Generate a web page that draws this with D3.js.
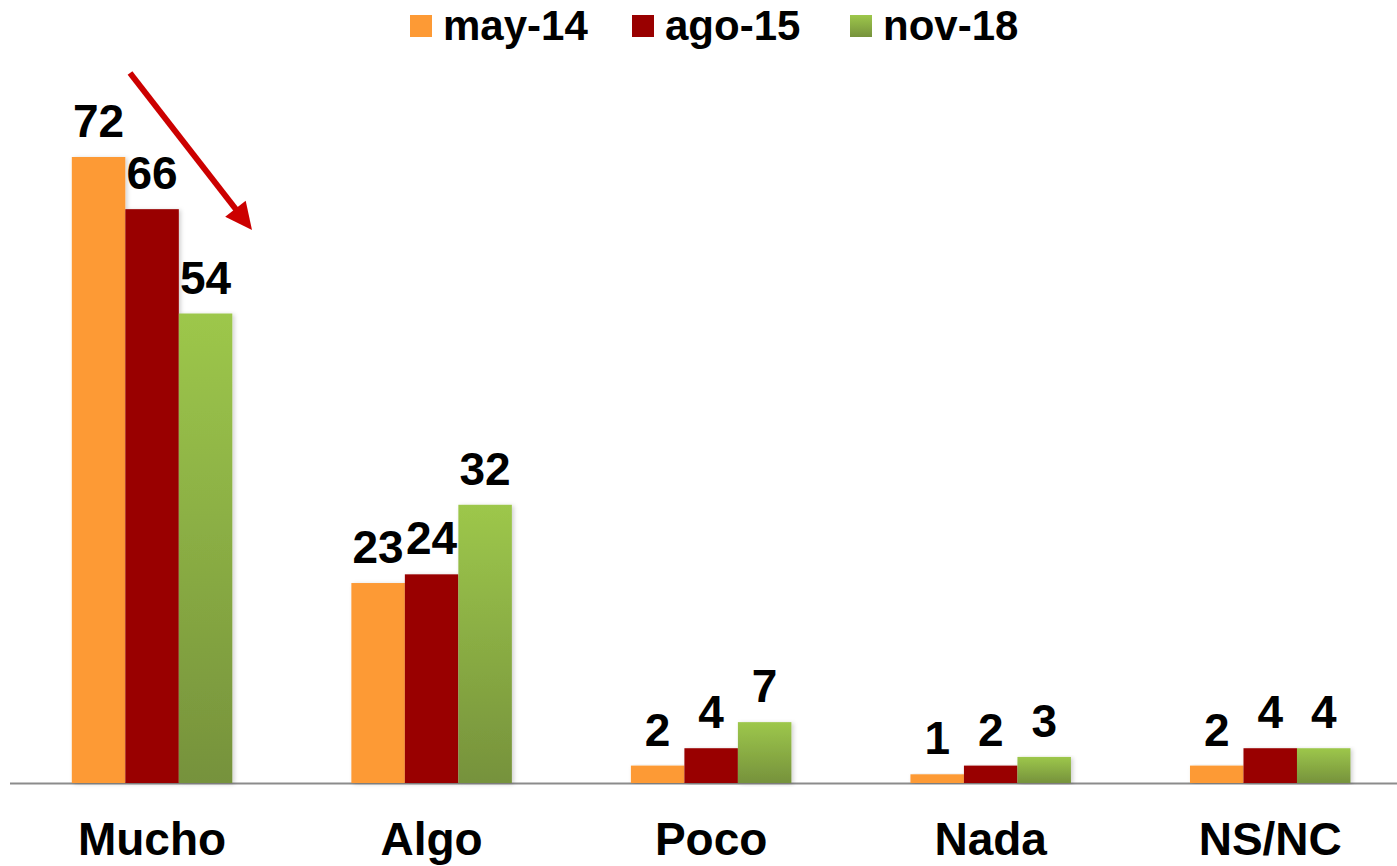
<!DOCTYPE html>
<html>
<head>
<meta charset="utf-8">
<script src="https://cdn.jsdelivr.net/npm/d3@7"></script>
<style>
  html, body { margin: 0; padding: 0; background: #fff; }
  svg { display: block; }
  text { font-family: "Liberation Sans", Arial, sans-serif; font-weight: bold; fill: #000; }
</style>
</head>
<body>
<svg id="chart" width="1397" height="866"></svg>
<script>
const categories = ["Mucho", "Algo", "Poco", "Nada", "NS/NC"];
const seriesNames = ["may-14", "ago-15", "nov-18"];
const may14 = [72, 23, 2, 1, 2];
const ago15 = [66, 24, 4, 2, 4];
const nov18 = [54, 32, 7, 3, 4];
const seriesValues = [may14, ago15, nov18];

const W = 1397, H = 866;
const svg = d3.select("#chart");
const defs = svg.append("defs");

const grad = defs.append("linearGradient").attr("id", "greenGrad")
  .attr("x1", 0).attr("y1", 0).attr("x2", 0).attr("y2", 1);
grad.append("stop").attr("offset", "0%").attr("stop-color", "#9dc74b");
grad.append("stop").attr("offset", "100%").attr("stop-color", "#76923c");

const shadow = defs.append("filter").attr("id", "shadow")
  .attr("x", "-20%").attr("y", "-5%").attr("width", "140%").attr("height", "110%");
shadow.append("feDropShadow").attr("dx", 2).attr("dy", 1).attr("stdDeviation", 2)
  .attr("flood-color", "#000").attr("flood-opacity", 0.18);

const fills = ["#fd9a35", "#990000", "url(#greenGrad)"];

const baseY = 783;
const x0 = d3.scaleBand().domain(categories).range([12.3, 1410]).paddingInner(0).paddingOuter(0);
const groupW = 160.5;
const x1 = d3.scaleBand().domain(seriesNames)
  .range([(x0.bandwidth() - groupW) / 2, (x0.bandwidth() + groupW) / 2]);
const y = d3.scaleLinear().domain([0, 72]).range([baseY, 157]);

// axis line
svg.append("line").attr("x1", 10).attr("x2", W).attr("y1", baseY + 0.5).attr("y2", baseY + 0.5)
  .attr("stroke", "#8c8c8c").attr("stroke-width", 2);

// bars
const groups = svg.selectAll("g.grp").data(categories).enter().append("g")
  .attr("class", "grp").attr("transform", d => `translate(${x0(d)},0)`);

seriesNames.forEach((s, si) => {
  groups.append("rect")
    .attr("x", x1(s))
    .attr("width", x1.bandwidth())
    .attr("y", (d, i) => y(seriesValues[si][i]))
    .attr("height", (d, i) => baseY - y(seriesValues[si][i]))
    .attr("fill", fills[si])
    .attr("filter", "url(#shadow)");
});

// data labels
seriesNames.forEach((s, si) => {
  groups.append("text")
    .attr("x", x1(s) + x1.bandwidth() / 2)
    .attr("y", (d, i) => y(seriesValues[si][i]) - 20)
    .attr("text-anchor", "middle")
    .attr("font-size", 46)
    .text((d, i) => seriesValues[si][i]);
});

// category axis labels
svg.append("g").selectAll("text").data(categories).enter().append("text")
  .attr("x", d => x0(d) + x0.bandwidth() / 2)
  .attr("y", 855)
  .attr("text-anchor", "middle")
  .attr("font-size", 46)
  .text(d => d);

// legend
const legendX = [410, 632, 850];
const leg = svg.append("g");
seriesNames.forEach((s, si) => {
  leg.append("rect").attr("x", legendX[si]).attr("y", 15).attr("width", 22).attr("height", 22)
    .attr("fill", fills[si]);
  leg.append("text").attr("x", legendX[si] + 33).attr("y", 40)
    .attr("font-size", 42).text(s);
});

// red arrow
const ax0 = 130, ay0 = 73, ax1 = 252, ay1 = 230;
const len = Math.hypot(ax1 - ax0, ay1 - ay0);
const ux = (ax1 - ax0) / len, uy = (ay1 - ay0) / len;
const headL = 27, headW = 13;
const bx = ax1 - ux * headL, by = ay1 - uy * headL;
svg.append("line")
  .attr("x1", ax0).attr("y1", ay0).attr("x2", bx + ux * 2).attr("y2", by + uy * 2)
  .attr("stroke", "#cc0000").attr("stroke-width", 6);
svg.append("path")
  .attr("d", `M${ax1},${ay1} L${bx - uy * headW},${by + ux * headW} L${bx + uy * headW},${by - ux * headW} Z`)
  .attr("fill", "#cc0000");
</script>
</body>
</html>
